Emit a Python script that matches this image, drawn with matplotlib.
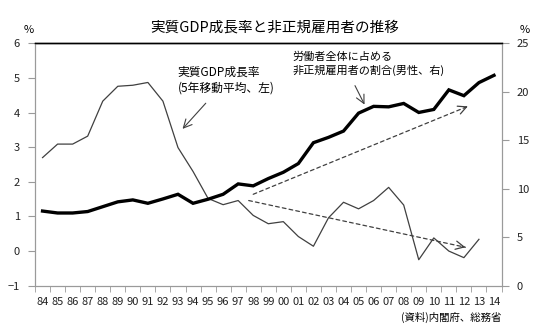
import matplotlib
matplotlib.use("Agg")
import matplotlib.pyplot as plt
import numpy as np

plt.rcParams['font.family'] = ['Noto Sans CJK JP', 'DejaVu Sans']

# years 1984-2014, labels are two-digit
years = ["84", "85", "86", "87", "88", "89", "90", "91", "92", "93", "94",
         "95", "96", "97", "98", "99", "00", "01", "02", "03", "04", "05",
         "06", "07", "08", "09", "10", "11", "12", "13", "14"]

# real GDP growth, 5-year moving average (left axis, %), ends 2013
gdp_growth = [2.70, 3.09, 3.09, 3.32, 4.33, 4.76, 4.79, 4.87, 4.33, 2.99, 2.30,
              1.52, 1.34, 1.46, 1.03, 0.79, 0.85, 0.42, 0.14, 0.96, 1.41, 1.22,
              1.46, 1.84, 1.33, -0.25, 0.38, 0.00, -0.19, 0.34]

# non-regular share of male employees (right axis, %)
nonregular_male = [7.7, 7.5, 7.5, 7.65, 8.15, 8.65, 8.85, 8.5, 8.95, 9.43, 8.5,
                   8.92, 9.43, 10.5, 10.3, 11.05, 11.7, 12.6, 14.75, 15.3, 15.95, 17.8,
                   18.5, 18.45, 18.8, 17.87, 18.18, 20.2, 19.6, 20.95, 21.7]

left_ticks = [-1, 0, 1, 2, 3, 4, 5, 6]
right_ticks = [0, 5, 10, 15, 20, 25]

grey = '#9a9a9a'
dark = '#404040'

fig = plt.figure(figsize=(5.49, 3.36), dpi=100)
ax = fig.add_axes([0.0638, 0.1497, 0.8497, 0.7213])
ax2 = ax.twinx()

x = np.arange(len(years))
ax.plot(x[:len(gdp_growth)], gdp_growth, color=dark, lw=0.9)
ax2.plot(x, nonregular_male, color='black', lw=2.4, solid_joinstyle='miter')

ax.set_xlim(-0.5, len(years) - 0.5)
ax.set_ylim(-1, 6)
ax2.set_ylim(0, 25)
ax.set_yticks(left_ticks)
ax2.set_yticks(right_ticks)
ax.set_xticks(x)
ax.set_xticklabels(years)
ax.set_xticks(np.arange(-0.5, len(years)), minor=True)

ax.tick_params(axis='x', which='major', length=0, pad=8, labelsize=8, colors='#222')
ax.tick_params(axis='x', which='minor', length=4, color=grey)
ax.tick_params(axis='y', length=5, color=grey, pad=6, labelsize=8, labelcolor='#222')
ax2.tick_params(axis='y', length=5, color=grey, pad=6, labelsize=8, labelcolor='#222')

for a in (ax, ax2):
    for side in ('left', 'bottom', 'right'):
        a.spines[side].set_color(grey)
    a.spines['top'].set_color('black')
    a.spines['top'].set_linewidth(1.0)

ax.text(-0.013, 1.055, '%', transform=ax.transAxes, ha='center', va='center', fontsize=8)
ax.text(1.05, 1.055, '%', transform=ax.transAxes, ha='center', va='center', fontsize=8)
ax.text(1.0, -0.13, '(資料)内閣府、総務省', transform=ax.transAxes, ha='right',
        va='center', fontsize=7.5)

fig.text(0.5, 0.917, '実質GDP成長率と非正規雇用者の推移', ha='center', va='center',
         fontsize=10.5)

head = '->, head_length=0.6, head_width=0.3'

# labels with arrows
ax.text(8.98, 4.93, '実質GDP成長率\n(5年移動平均、左)', ha='left', va='center',
        fontsize=8.5, linespacing=1.3)
ax.annotate('', xy=(9.18, 3.47), xytext=(10.97, 4.33),
            arrowprops=dict(arrowstyle=head, color=dark, lw=0.8))
ax.text(16.6, 5.42, '労働者全体に占める\n非正規雇用者の割合(男性、右)', ha='left',
        va='center', fontsize=8, linespacing=1.3)
ax.annotate('', xy=(21.48, 4.16), xytext=(20.68, 4.85),
            arrowprops=dict(arrowstyle=head, color=dark, lw=0.8))


def trend_arrow(a, start, end):
    # dashed shaft, solid head
    a.annotate('', xy=end, xytext=start,
               arrowprops=dict(arrowstyle='-', color=dark, lw=0.9,
                               linestyle=(0, (3, 2.5)), shrinkA=0, shrinkB=0))
    t = 0.985
    near = (start[0] + t * (end[0] - start[0]), start[1] + t * (end[1] - start[1]))
    a.annotate('', xy=end, xytext=near,
               arrowprops=dict(arrowstyle=head, color=dark, lw=0.9,
                               shrinkA=0, shrinkB=0))


trend_arrow(ax2, (14.0, 9.43), (28.26, 18.5))
trend_arrow(ax, (13.7, 1.46), (28.1, 0.11))

fig.savefig('out.png', dpi=100)
